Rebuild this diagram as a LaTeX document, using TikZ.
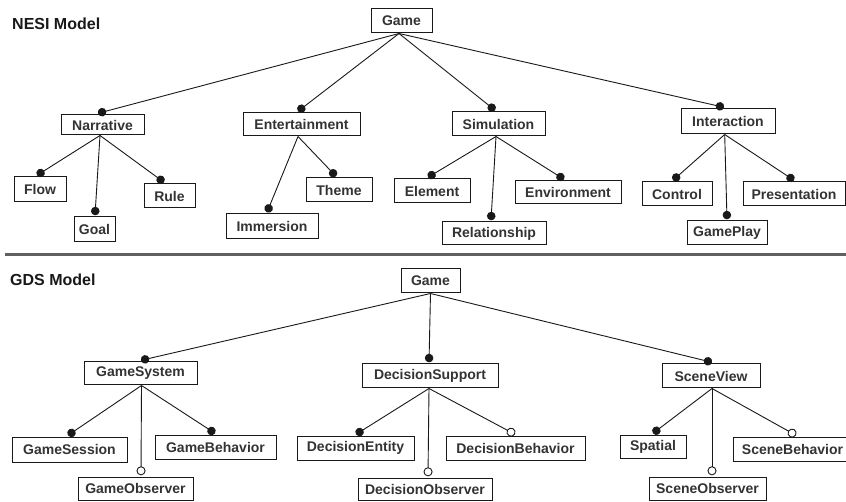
\documentclass[tikz,border=0pt]{standalone}
\usepackage{fontspec}
\setmainfont{Liberation Sans}
\usetikzlibrary{arrows.meta}
\definecolor{txt}{HTML}{333333}
\definecolor{sep}{HTML}{606060}
\tikzset{
  box/.style={draw=black!90, line width=1pt, fill=white, text=txt, inner sep=0pt,
    font=\bfseries\fontsize{14}{16}\selectfont, anchor=center},
  heading/.style={anchor=base west, inner sep=0pt, text=black!90,
    font=\bfseries\fontsize{16}{18}\selectfont},
  conn/.style={line width=0.9pt, draw=black!90},
  full/.style={-{Circle[length=8.5pt,width=8.5pt]}},
  hollow/.style={-{Circle[open,length=9pt,width=9pt,line width=0.9pt]}},
}
\newcommand{\bx}[6]{\node[box, minimum width={(#3-#2)*1pt}, minimum height={(#5-#4)*1pt}] (#1) at ({(#2+#3)/2},{(#4+#5)/2}) {#6};}
\newcommand{\ed}[5]{\draw[conn,#5] ([xshift=#3pt]#1.south) -- ([xshift=#4pt,yshift=1.2pt]#2.north);}
\begin{document}
\begin{tikzpicture}[x=1pt,y=-1pt]
\useasboundingbox (0,0) rectangle (846,502);
\fill[white] (0,0) rectangle (846,502);

% headings
\node[heading] (nesi) at (12,30) {NESI Model};
\node[heading] (gds) at (10,285.5) {GDS Model};

% separator
\coordinate (sepL) at (5,254.5);
\coordinate (sepR) at (846,254.5);
\draw[sep, line width=2.5pt] (sepL) -- (sepR);

% ---------- NESI ----------
\bx{g1}{371}{432}{9}{33}{Game}
\bx{nar}{61}{144}{115}{135}{Narrative}
\bx{ent}{243}{360}{113}{136}{Entertainment}
\bx{sim}{452}{545}{112}{136}{Simulation}
\bx{int}{681}{775}{109}{134}{Interaction}
\bx{flow}{14}{66}{177}{202}{Flow}
\bx{goal}{74}{115}{217}{242}{Goal}
\bx{rule}{144}{195}{184}{208}{Rule}
\bx{imm}{226}{318}{214}{239}{Immersion}
\bx{theme}{306}{372}{178}{202}{Theme}
\bx{elem}{394}{470}{179}{203}{Element}
\bx{rel}{442}{546}{222}{245}{Relationship}
\bx{env}{515}{621}{181}{204}{Environment}
\bx{ctrl}{642}{712}{182}{206}{Control}
\bx{gplay}{687}{767}{221}{245}{GamePlay}
\bx{pres}{743}{845}{182}{206}{Presentation}

\ed{g1}{nar}{-2.5}{-4.5}{full}
\ed{g1}{ent}{-2.5}{-3.5}{full}
\ed{g1}{sim}{-2.5}{-3.5}{full}
\ed{g1}{int}{-2.5}{-4}{full}
\ed{nar}{flow}{-2.5}{-3}{full}
\ed{nar}{goal}{-2.5}{0.5}{full}
\ed{nar}{rule}{-2.5}{-5.5}{full}
\ed{ent}{imm}{-3.5}{-5}{full}
\ed{ent}{theme}{-3.5}{-3}{full}
\ed{sim}{elem}{-2.5}{-4}{full}
\ed{sim}{rel}{-2.5}{-3}{full}
\ed{sim}{env}{-2.5}{-4}{full}
\ed{int}{ctrl}{-3.3}{-4}{full}
\ed{int}{gplay}{-3.3}{0}{full}
\ed{int}{pres}{-3.3}{0}{full}

% ---------- GDS ----------
\bx{g2}{401}{460}{269}{293}{Game}
\bx{gsys}{84}{197}{362}{385}{GameSystem}
\bx{dsup}{362}{498}{364}{388}{DecisionSupport}
\bx{sview}{662}{760}{364}{388}{SceneView}
\bx{gsess}{12}{127}{437}{462}{GameSession}
\bx{gobs}{78}{193}{477}{500}{GameObserver}
\bx{gbeh}{155}{276}{435}{459}{GameBehavior}
\bx{dent}{297}{414}{436}{460}{DecisionEntity}
\bx{dobs}{358}{492}{478}{500}{DecisionObserver}
\bx{dbeh}{446}{585}{436}{460}{DecisionBehavior}
\bx{spat}{620}{686}{435}{458}{Spatial}
\bx{sobs}{649}{766}{477}{500}{SceneObserver}
\bx{sbeh}{733}{852}{437}{461}{SceneBehavior}

\ed{g2}{gsys}{0}{0.5}{full}
\ed{g2}{dsup}{0}{-1}{full}
\ed{g2}{sview}{0}{1}{full}
\ed{gsys}{gsess}{1}{-1.5}{full}
\ed{gsys}{gobs}{1}{5.5}{hollow}
\ed{gsys}{gbeh}{1}{-0.5}{full}
\ed{dsup}{dent}{-1}{0.5}{full}
\ed{dsup}{dobs}{-1}{3}{hollow}
\ed{dsup}{dbeh}{-1}{-0.5}{hollow}
\ed{sview}{spat}{1}{0}{full}
\ed{sview}{sobs}{1}{4.5}{hollow}
\ed{sview}{sbeh}{1}{3.5}{hollow}
\end{tikzpicture}
\end{document}
